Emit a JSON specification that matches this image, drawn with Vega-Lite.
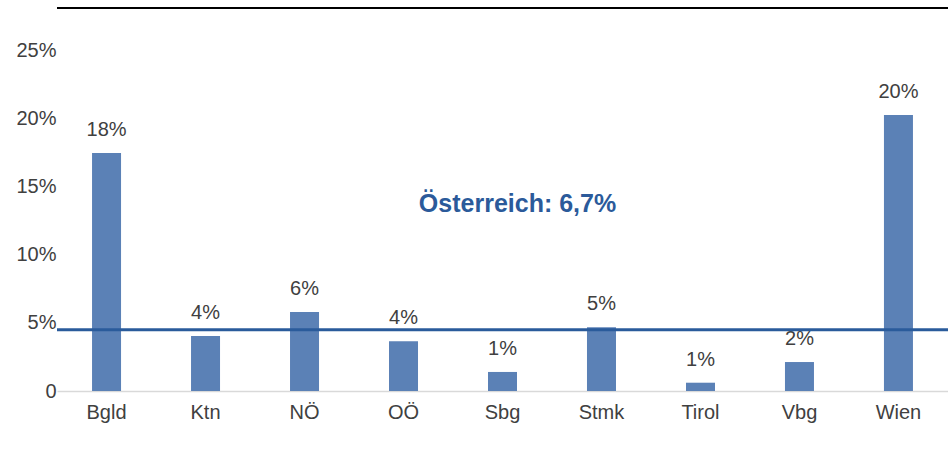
{
  "$schema": "https://vega.github.io/schema/vega-lite/v6.json",
  "width": 891,
  "height": 383,
  "autosize": "none",
  "padding": {"left": 57, "top": 8, "right": 0, "bottom": 60},
  "background": "white",
  "config": {"view": {"stroke": null}, "font": "Arial, 'Liberation Sans', sans-serif", "axis": {"labelFont": "Arial, 'Liberation Sans', sans-serif"}, "text": {"font": "Arial, 'Liberation Sans', sans-serif"}},
  "datasets": {
    "bars": [
      {"region": "Bgld", "value": 17.5, "label": "18%"},
      {"region": "Ktn", "value": 4.04, "label": "4%"},
      {"region": "NÖ", "value": 5.8, "label": "6%"},
      {"region": "OÖ", "value": 3.65, "label": "4%"},
      {"region": "Sbg", "value": 1.4, "label": "1%"},
      {"region": "Stmk", "value": 4.68, "label": "5%"},
      {"region": "Tirol", "value": 0.61, "label": "1%"},
      {"region": "Vbg", "value": 2.13, "label": "2%"},
      {"region": "Wien", "value": 20.3, "label": "20%"}
    ],
    "avg": [{"value": 4.5, "top": 28.16, "labelY": 13.18, "labelX": "Sbg", "text": "Österreich: 6,7%"}]
  },
  "layer": [
    {
      "data": {"name": "bars"},
      "mark": {"type": "bar", "color": "#5b81b6"},
      "encoding": {
        "x": {
          "field": "region", "type": "nominal", "sort": null,
          "scale": {"paddingInner": 0.707, "paddingOuter": 0.354},
          "axis": {"title": null, "labelAngle": 0, "labelFontSize": 20, "labelColor": "#404040", "labelPadding": 11, "ticks": false, "domainColor": "#d9d9d9", "domainWidth": 1.5}
        },
        "y": {
          "field": "value", "type": "quantitative",
          "scale": {"domain": [0, 28.16], "nice": false},
          "axis": {"title": null, "values": [0, 5, 10, 15, 20, 25], "labelExpr": "datum.value == 0 ? '0' : datum.value + '%'", "labelFontSize": 20, "labelColor": "#404040", "labelPadding": 1, "ticks": false, "domain": false, "grid": false}
        }
      }
    },
    {
      "data": {"name": "bars"},
      "mark": {"type": "text", "fontSize": 20, "color": "#404040", "dy": -17, "baseline": "alphabetic"},
      "encoding": {
        "x": {"field": "region", "type": "nominal", "sort": null},
        "y": {"field": "value", "type": "quantitative"},
        "text": {"field": "label"}
      }
    },
    {
      "data": {"name": "avg"},
      "mark": {"type": "rule", "color": "#2a5b9b", "strokeWidth": 3},
      "encoding": {"y": {"field": "value", "type": "quantitative"}}
    },
    {
      "data": {"name": "avg"},
      "mark": {"type": "rule", "color": "#000000", "strokeWidth": 2},
      "encoding": {"y": {"field": "top", "type": "quantitative"}}
    },
    {
      "data": {"name": "avg"},
      "mark": {"type": "text", "fontSize": 25, "fontWeight": "bold", "color": "#2b5a9a", "dx": 15, "baseline": "alphabetic"},
      "encoding": {
        "x": {"field": "labelX", "type": "nominal", "sort": null},
        "y": {"field": "labelY", "type": "quantitative"},
        "text": {"field": "text"}
      }
    }
  ]
}
